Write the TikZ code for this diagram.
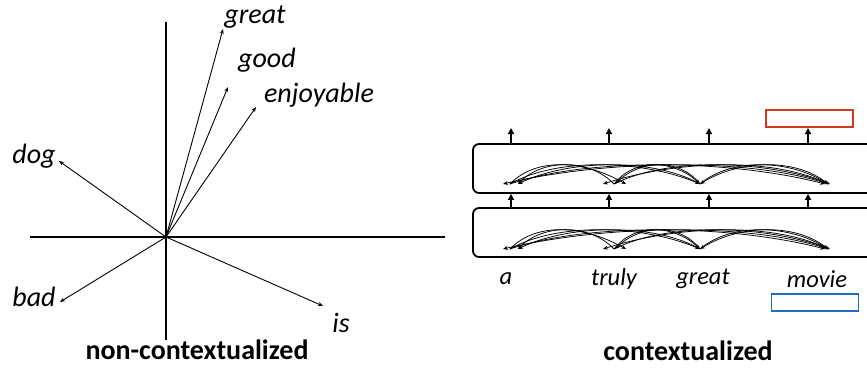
\documentclass[tikz,border=0pt]{standalone}
\usepackage{fontspec}
\setmainfont{Carlito}
\usetikzlibrary{arrows.meta,calc}
\definecolor{outred}{RGB}{208,58,30}
\definecolor{inblue}{RGB}{30,110,200}
\tikzset{
  axis/.style={line width=1.4pt},
  vec/.style={line width=0.9pt,-{Stealth[length=5pt,width=4pt]}},
  word/.style={font=\fontsize{28}{32}\selectfont\itshape,inner sep=0pt},
  tok/.style={font=\fontsize{24.5}{28}\selectfont\itshape,inner sep=0pt},
  caption/.style={font=\fontsize{28}{32}\selectfont\bfseries,inner sep=0pt,anchor=base},
  layerbox/.style={draw,line width=1.8pt,rounded corners=6pt,minimum width=420pt,minimum height=49pt,inner sep=0pt},
  upflow/.style={line width=1.6pt,-{Triangle[length=6pt,width=6pt]}},
  attn/.style={line width=0.75pt,-{Stealth[length=5pt,width=4pt]}},
  vecbox/.style={draw,line width=1.6pt,minimum width=87pt,minimum height=17pt,inner sep=0pt}
}
\begin{document}
\begin{tikzpicture}[x=1pt,y=-1pt]
\useasboundingbox (0,0) rectangle (867,367);
\clip (0,0) rectangle (867,367);

% ---- static word vectors ----
\coordinate (O) at (166,237);
\coordinate (yt) at (166,22);
\coordinate (yb) at (166,340);
\coordinate (xl) at (30,237);
\coordinate (xr) at (445,237);
\draw[axis] (yt) -- (yb);
\draw[axis] (xl) -- (xr);

\node[word] (great) at (255,17) {great};
\node[word] (good) at (267,60) {good};
\node[word] (enjoy) at (319,95) {enjoyable};
\node[word] (dog) at (34,156) {dog};
\node[word] (bad) at (34,297) {bad};
\node[word] (is) at (341,323) {is};

\coordinate (tgreat) at (223,29);
\coordinate (tgood) at (228,87);
\coordinate (tenjoy) at (256,107);
\coordinate (tdog) at (59,161);
\coordinate (tbad) at (60,302);
\coordinate (tis) at (323,306);
\foreach \t in {tgreat,tgood,tenjoy,tdog,tbad,tis}
  \draw[vec] (O) -- (\t);

\node[caption] (cap1) at (197,359) {non-contextualized};

% ---- contextual encoder ----
\node[layerbox] (upper) at (683,168.5) {};
\node[layerbox] (lower) at (683,232.5) {};

\foreach \i/\x in {1/511,2/609,3/709,4/808}{
  \coordinate (out\i) at (\x,128);
  \draw[upflow] (upper.north -| out\i) -- (out\i);
  \draw[upflow] (lower.north -| out\i) -- (upper.south -| out\i);
}

% self-attention arcs inside each layer
\foreach \b/\y in {u/184,l/249}{
  \coordinate (\b a) at (510,\y);
  \coordinate (\b t) at (614,\y);
  \coordinate (\b g) at (700,\y);
  \coordinate (\b m) at (828,\y);
  \foreach \s/\t/\dx in {a/t/12,a/g/0,a/m/-3,t/a/8,t/g/0,t/m/2,g/a/8,g/t/1,g/m/0,m/a/-7,m/t/-11,m/g/0}{
    \draw[attn] (\b\s) .. controls ($(\b\s)!0.25!(\b\t)+(0,-27)$) and ($(\b\t)!0.3!(\b\s)+(0,-24)$) .. ($(\b\t)+(\dx,0)$);
  }
}

\node[tok] (wa) at (506,279) {a};
\node[tok] (wt) at (614,279) {truly};
\node[tok] (wg) at (703,279) {great};
\node[tok] (wm) at (817,279) {movie};

\node[vecbox,draw=outred] (ctx) at (809.5,118.5) {};
\node[vecbox,draw=inblue] (emb) at (815,302.5) {};

\node[caption] (cap2) at (688,360) {contextualized};
\end{tikzpicture}
\end{document}
